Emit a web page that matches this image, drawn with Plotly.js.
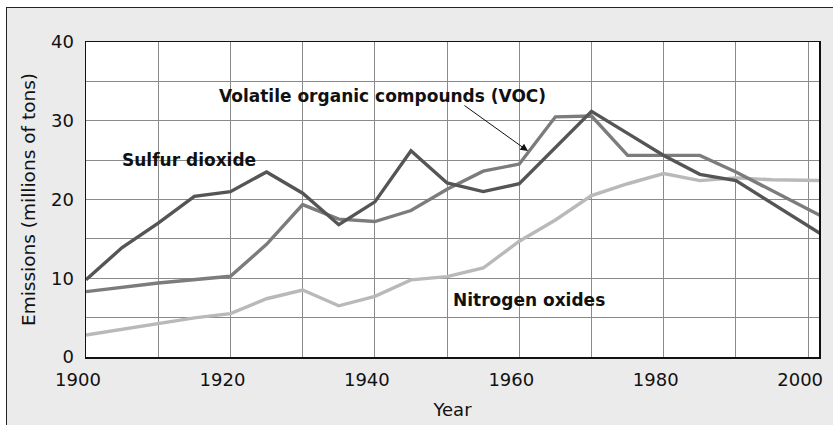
<!DOCTYPE html>
<html>
<head>
<meta charset="utf-8">
<script src="https://cdn.plot.ly/plotly-3.0.1.min.js"></script>
<style>
  html, body { margin: 0; padding: 0; background: #ffffff; overflow: hidden; }
  #chart { position: absolute; left: 6px; top: 7px; width: 827px; height: 418px;
           border-left: 1px solid #222; border-top: 1px solid #222; background: #ebebeb; }
</style>
</head>
<body>
<div id="chart"></div>
<script>
// Years and values (millions of tons)
const so2Years = [1900, 1905, 1910, 1915, 1920, 1925, 1930, 1935, 1940, 1945, 1950, 1955, 1960, 1965, 1970, 1975, 1980, 1985, 1990, 2002];
const so2Vals  = [9.8, 13.9, 17.0, 20.4, 21.0, 23.5, 20.8, 16.8, 19.7, 26.2, 22.1, 21.0, 22.0, 26.6, 31.2, 28.4, 25.6, 23.2, 22.4, 15.5];

const vocYears = [1900, 1905, 1910, 1920, 1925, 1930, 1935, 1940, 1945, 1950, 1955, 1960, 1965, 1970, 1975, 1980, 1985, 1990, 2002];
const vocVals  = [8.3, 8.9, 9.4, 10.25, 14.3, 19.35, 17.5, 17.2, 18.6, 21.3, 23.6, 24.5, 30.5, 30.6, 25.6, 25.6, 25.6, 23.5, 17.8];

const noxYears = [1900, 1905, 1910, 1915, 1920, 1925, 1930, 1935, 1940, 1945, 1950, 1955, 1960, 1965, 1970, 1975, 1980, 1985, 1990, 1995, 2002];
const noxVals  = [2.8, 3.5, 4.26, 4.97, 5.5, 7.4, 8.5, 6.5, 7.7, 9.8, 10.2, 11.3, 14.7, 17.4, 20.5, 22.0, 23.3, 22.4, 22.75, 22.5, 22.4];

const xTickVals = [1900, 1920, 1940, 1960, 1980, 2000];
const xTickText = ['1900', '1920', '1940', '1960', '1980', '2000'];
const yTickVals = [0, 10, 20, 30, 40];
const yTickText = ['0', '10', '20', '30', '40'];

const labelSO2 = 'Sulfur dioxide';
const labelVOC = 'Volatile organic compounds (VOC)';
const labelNOx = 'Nitrogen oxides';

const traces = [
  { x: noxYears, y: noxVals, type: 'scatter', mode: 'lines', name: labelNOx,
    line: { color: '#b9b9b9', width: 3.4 } },
  { x: vocYears, y: vocVals, type: 'scatter', mode: 'lines', name: labelVOC,
    line: { color: '#7c7c7c', width: 3.4 } },
  { x: so2Years, y: so2Vals, type: 'scatter', mode: 'lines', name: labelSO2,
    line: { color: '#555555', width: 3.4 } }
];

const annFont = { family: 'DejaVu Sans', size: 17, color: '#111111', weight: 'bold' };

const layout = {
  width: 827, height: 418,
  margin: { l: 79, r: 15, t: 34, b: 69 },
  paper_bgcolor: '#ebebeb',
  plot_bgcolor: '#ffffff',
  showlegend: false,
  font: { family: 'DejaVu Sans', size: 18, color: '#111111' },
  xaxis: {
    range: [1900, 2001.5],
    tickvals: xTickVals, ticktext: xTickText,
    ticks: '', ticklabelstandoff: 6, ticklabelshift: -8,
    showgrid: true, gridcolor: '#8a8a8a', gridwidth: 1,
    minor: { dtick: 10, tick0: 1900, showgrid: true, gridcolor: '#8a8a8a', gridwidth: 1 },
    showline: true, linecolor: '#111111', linewidth: 1.5, mirror: true,
    zeroline: false,
    tickfont: { family: 'DejaVu Sans', size: 18, color: '#111111' },
    title: { text: 'Year', font: { family: 'DejaVu Sans', size: 18, color: '#111111' }, standoff: 14 },
    automargin: false
  },
  yaxis: {
    range: [0, 40],
    tickvals: yTickVals, ticktext: yTickText,
    ticks: '', ticklabelstandoff: 7,
    showgrid: true, gridcolor: '#8a8a8a', gridwidth: 1,
    minor: { dtick: 5, tick0: 0, showgrid: true, gridcolor: '#8a8a8a', gridwidth: 1 },
    showline: true, linecolor: '#111111', linewidth: 1.5, mirror: true,
    zeroline: false,
    tickfont: { family: 'DejaVu Sans', size: 18, color: '#111111' },
    title: { text: 'Emissions (millions of tons)', font: { family: 'DejaVu Sans', size: 18.5, color: '#111111' }, standoff: 10 },
    automargin: false
  },
  annotations: [
    { text: labelSO2, x: 1904.7, y: 25.05, xref: 'x', yref: 'y', xanchor: 'left', yanchor: 'middle',
      showarrow: false, font: annFont },
    { text: labelVOC, x: 1918.2, y: 33.16, xref: 'x', yref: 'y', xanchor: 'left', yanchor: 'middle',
      showarrow: false, font: annFont },
    { text: labelNOx, x: 1950.6, y: 7.19, xref: 'x', yref: 'y', xanchor: 'left', yanchor: 'middle',
      showarrow: false, font: annFont },
    { text: '', x: 1961.2, y: 26.15, xref: 'x', yref: 'y', ax: 1952.2, ay: 32.07, axref: 'x', ayref: 'y',
      showarrow: true, arrowhead: 2, arrowsize: 1.5, arrowwidth: 1, arrowcolor: '#111111', standoff: 0 }
  ]
};

Plotly.newPlot('chart', traces, layout, { staticPlot: true, displayModeBar: false });
</script>
</body>
</html>
